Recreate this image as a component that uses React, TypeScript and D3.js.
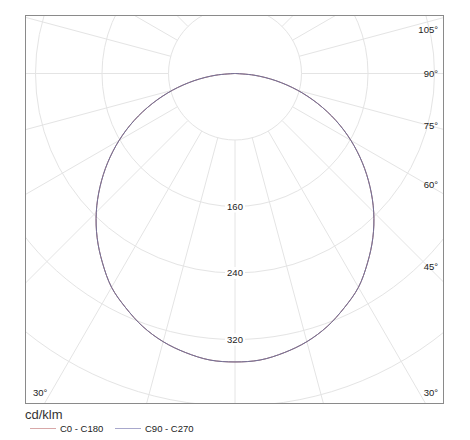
import React, { useEffect, useRef } from 'react';
import * as d3 from 'd3';

// gamma angles (deg from nadir) and luminous intensity (cd/klm)
const gammaAngles = [0, 5, 10, 15, 20, 25, 30, 35, 40, 45, 50, 55, 60, 65, 70, 75, 80, 85, 90];
const c0c180 = [347, 346, 341, 334, 324, 311, 297, 278, 258, 236, 212, 187, 161, 134, 106, 78, 50, 23, 0];
const c90c270 = [347, 346, 341, 334, 324, 311, 297, 278, 258, 236, 212, 187, 161, 134, 106, 78, 50, 23, 0];

const ringValues = [80, 160, 240, 320, 400, 480, 560];
const ringLabels = [160, 240, 320];
const rightAngleLabels = [105, 90, 75, 60, 45, 30];
const leftAngleLabels = [30];
const seriesNames = ['C0 - C180', 'C90 - C270'];
const seriesColors = ['#d8a8a8', '#a8a8cc'];

const W = 470;
const H = 440;
const box = { left: 25, top: 15, right: 444, bottom: 404 };
const cx = 235;
const cy = 73.5;
const FONT = '"Liberation Sans", Arial, sans-serif';

const App: React.FC = () => {
  const svgRef = useRef<SVGSVGElement>(null);

  useEffect(() => {
    if (!svgRef.current) return;
    const svg = d3.select(svgRef.current);
    svg.selectAll('*').remove();

    const r = d3.scaleLinear().domain([0, 80]).range([0, 66.5]);

    svg.append('defs').append('clipPath').attr('id', 'plotClip')
      .append('rect')
      .attr('x', box.left).attr('y', box.top)
      .attr('width', box.right - box.left).attr('height', box.bottom - box.top);

    svg.append('rect')
      .attr('x', box.left).attr('y', box.top)
      .attr('width', box.right - box.left).attr('height', box.bottom - box.top)
      .attr('fill', '#fff');

    const grid = svg.append('g').attr('clip-path', 'url(#plotClip)');

    // rings
    grid.selectAll('.ring')
      .data(ringValues)
      .enter()
      .append('circle')
      .attr('cx', cx).attr('cy', cy)
      .attr('r', d => r(d))
      .attr('fill', 'none')
      .attr('stroke', '#e4e4e4')
      .attr('stroke-width', 1);

    // radial lines every 15 deg, starting at the first ring
    const spokes = d3.range(0, 360, 15);
    grid.selectAll('.spoke')
      .data(spokes)
      .enter()
      .append('line')
      .attr('x1', d => cx + r(80) * Math.sin((d * Math.PI) / 180))
      .attr('y1', d => cy + r(80) * Math.cos((d * Math.PI) / 180))
      .attr('x2', d => cx + r(800) * Math.sin((d * Math.PI) / 180))
      .attr('y2', d => cy + r(800) * Math.cos((d * Math.PI) / 180))
      .attr('stroke', '#e4e4e4')
      .attr('stroke-width', 1);

    // ring labels with white background
    const rl = svg.append('g');
    ringLabels.forEach(v => {
      rl.append('rect')
        .attr('x', cx - 10).attr('y', cy + r(v) - 6)
        .attr('width', 20).attr('height', 12)
        .attr('fill', '#fff');
      rl.append('text')
        .attr('x', cx).attr('y', cy + r(v))
        .attr('dy', '0.35em')
        .attr('text-anchor', 'middle')
        .style('font-family', FONT)
        .style('font-size', '9.5px')
        .style('fill', '#222')
        .text(v);
    });

    // curves
    const line = d3.lineRadial<[number, number]>()
      .angle(d => Math.PI - (d[0] * Math.PI) / 180)
      .radius(d => r(d[1]))
      .curve(d3.curveCatmullRom);

    const build = (vals: number[]): [number, number][] => {
      const right = gammaAngles.map((a, i) => [a, vals[i]] as [number, number]);
      const left = gammaAngles.map((a, i) => [-a, vals[i]] as [number, number]).reverse();
      return left.concat(right.slice(1));
    };

    const curves = svg.append('g')
      .attr('transform', `translate(${cx},${cy})`);
    curves.append('path')
      .attr('d', line(build(c0c180)))
      .attr('fill', 'none')
      .attr('stroke', '#b07070')
      .attr('stroke-width', 1);
    curves.append('path')
      .attr('d', line(build(c90c270)))
      .attr('fill', 'none')
      .attr('stroke', '#72729a')
      .attr('stroke-width', 1);

    // frame
    svg.append('rect')
      .attr('x', box.left + 0.5).attr('y', box.top + 0.5)
      .attr('width', box.right - box.left - 1).attr('height', box.bottom - box.top - 1)
      .attr('fill', 'none')
      .attr('stroke', '#8a8a8a')
      .attr('stroke-width', 1);

    // angle labels
    const labelY = (a: number, x: number) => {
      const t = ((90 - a) * Math.PI) / 180;
      const y = cy + Math.abs(x - cx) * Math.tan(t);
      return Math.max(30, Math.min(393, y));
    };
    rightAngleLabels.forEach(a => {
      svg.append('text')
        .attr('x', 438).attr('y', labelY(a, 428))
        .attr('dy', '0.35em')
        .attr('text-anchor', 'end')
        .style('font-family', FONT)
        .style('font-size', '9.5px')
        .style('fill', '#222')
        .text(`${a}°`);
    });
    leftAngleLabels.forEach(a => {
      svg.append('text')
        .attr('x', 33).attr('y', labelY(a, 42))
        .attr('dy', '0.35em')
        .attr('text-anchor', 'start')
        .style('font-family', FONT)
        .style('font-size', '9.5px')
        .style('fill', '#222')
        .text(`${a}°`);
    });

    // unit + legend
    svg.append('text')
      .attr('x', 25).attr('y', 419)
      .style('font-family', FONT)
      .style('font-size', '13px')
      .style('fill', '#333')
      .text('cd/klm');

    const legendX = [30, 115];
    seriesNames.forEach((name, i) => {
      svg.append('line')
        .attr('x1', legendX[i]).attr('x2', legendX[i] + 26)
        .attr('y1', 428.5).attr('y2', 428.5)
        .attr('stroke', seriesColors[i])
        .attr('stroke-width', 1);
      svg.append('text')
        .attr('x', legendX[i] + 30).attr('y', 432)
        .style('font-family', FONT)
        .style('font-size', '9.5px')
        .style('fill', '#222')
        .text(name);
    });
  }, []);

  return (
    <svg
      ref={svgRef}
      width={W}
      height={H}
      style={{ position: 'absolute', left: 0, top: 0, background: '#fff' }}
    />
  );
};

export default App;
